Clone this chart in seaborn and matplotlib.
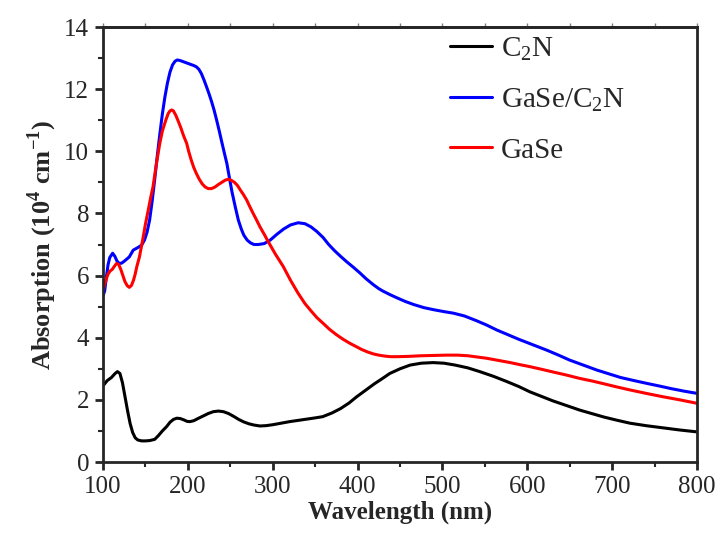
import pandas as pd
import matplotlib
matplotlib.use("Agg")
import matplotlib.pyplot as plt
import seaborn as sns
from matplotlib.ticker import MultipleLocator

# dados (comprimento de onda em nm, absorcao em 10^4 cm^-1)
x_c2n = [100, 105, 110, 114, 117, 120, 123, 126, 129, 132, 135, 138, 141, 145.6, 150, 155, 161,
         165, 170, 175, 179, 183, 187, 191, 195, 199, 202.5, 207, 212, 218, 224, 230, 236, 242,
         248, 254, 260, 266, 272, 278, 285, 292, 300, 310, 320, 330, 340, 350, 359, 370,
         380, 390, 399, 410, 420, 430, 438, 450, 462, 475, 489, 502, 515, 530, 544, 560,
         575, 590, 603, 617, 630, 646, 662, 676, 690, 705, 721, 740, 760, 780, 800]
y_c2n = [2.45, 2.62, 2.72, 2.84, 2.91, 2.85, 2.55, 2.1, 1.65, 1.24, 0.95, 0.78, 0.71, 0.68, 0.68,
         0.69, 0.73, 0.84, 1.0, 1.14, 1.28, 1.37, 1.41, 1.40, 1.36, 1.31, 1.30, 1.33, 1.40, 1.48,
         1.56, 1.62, 1.64, 1.62, 1.56, 1.47, 1.37, 1.29, 1.23, 1.19, 1.16, 1.17, 1.2, 1.25, 1.30,
         1.34, 1.38, 1.42, 1.46, 1.58, 1.72, 1.9, 2.10, 2.32, 2.52, 2.7, 2.85, 3.0, 3.12, 3.18,
         3.20, 3.18, 3.12, 3.03, 2.91, 2.76, 2.6, 2.43, 2.26, 2.11, 1.97, 1.82, 1.67, 1.56, 1.45,
         1.35, 1.25, 1.17, 1.1, 1.03, 0.97]

x_het = [100, 102, 104, 106, 108, 111.4, 114, 116.5, 119, 122, 125, 128, 131, 135.7, 141, 145.6,
         149, 152, 155, 158, 161, 164, 167, 170, 173, 176, 179, 182, 185, 187.6, 191, 195, 199,
         203, 207, 210, 213, 216, 219, 222, 225, 228, 231, 234, 237, 240, 243, 246, 249, 252,
         256, 259.5, 263, 266, 270, 274, 278, 283, 290, 297, 305, 313, 321, 330, 338, 345,
         352, 359.6, 366, 373, 380, 387, 395, 403, 410, 418.5, 425, 430, 438, 446, 456,
         466, 478, 490, 502, 513, 526, 540, 552, 564, 577, 590, 606, 623, 636, 650, 666, 682,
         696, 710, 726, 741, 755, 770, 785, 800]
y_het = [5.35, 5.5, 5.95, 6.35, 6.58, 6.72, 6.62, 6.47, 6.39, 6.4, 6.46, 6.53, 6.6, 6.82, 6.9, 6.98,
         7.15, 7.4, 7.79, 8.4, 9.1, 9.85, 10.55, 11.2, 11.75, 12.2, 12.55, 12.78, 12.9, 12.94,
         12.92, 12.88, 12.84, 12.80, 12.76, 12.72, 12.64, 12.5, 12.3, 12.08, 11.85, 11.6, 11.32,
         11.0, 10.66, 10.3, 9.95, 9.61, 9.15, 8.7, 8.2, 7.79, 7.5, 7.3, 7.14, 7.05, 7.0, 7.0,
         7.03, 7.14, 7.33, 7.5, 7.63, 7.70, 7.67, 7.57, 7.42, 7.22, 7.0, 6.8, 6.62, 6.45, 6.27,
         6.08, 5.9, 5.71, 5.58, 5.5, 5.39, 5.29, 5.17, 5.07, 4.97, 4.9, 4.84, 4.79, 4.7, 4.55,
         4.41, 4.25, 4.1, 3.95, 3.78, 3.60, 3.45, 3.28, 3.12, 2.96, 2.84, 2.72, 2.62, 2.53, 2.45,
         2.36, 2.28, 2.21]

x_gase = [100, 102.4, 104, 106, 108.5, 111, 113.5, 116, 118.5, 121, 123.5, 126, 128.5, 131, 133.5,
          136, 138, 140, 143, 147.5, 150, 153.4, 156, 159, 163, 167, 170, 174, 177, 179, 181, 183,
          186, 189, 192, 195, 198.6, 201, 204, 207, 210, 213.5, 217, 220.5, 224, 228, 232, 236,
          240, 244, 247.6, 251, 255, 258.5, 262, 265.7, 269.4, 273, 277, 281, 285, 290, 294.8,
          303, 312.5, 321, 330, 338, 345, 352, 359.6, 367, 375, 383, 391, 398, 405, 412,
          418.5, 425, 432, 439, 446, 460, 475, 490, 505, 518, 530, 541, 552, 566, 580, 592,
          603, 616, 630, 646, 662, 676, 690, 705, 721, 740, 760, 780, 800]
y_gase = [5.5, 5.75, 5.9, 6.05, 6.15, 6.2, 6.3, 6.39, 6.36, 6.2, 6.0, 5.8, 5.68, 5.62, 5.68,
          5.85, 6.05, 6.3, 6.6, 7.25, 7.65, 8.11, 8.48, 8.86, 9.6, 10.26, 10.65, 11.0, 11.22,
          11.3, 11.33, 11.3, 11.15, 10.95, 10.74, 10.5, 10.26, 10.0, 9.72, 9.48, 9.29, 9.1, 8.95,
          8.85, 8.80, 8.80, 8.85, 8.93, 9.0, 9.07, 9.10, 9.07, 9.0, 8.9, 8.75, 8.6, 8.43, 8.22,
          8.0, 7.79, 7.57, 7.33, 7.09, 6.7, 6.29, 5.85, 5.43, 5.1, 4.87, 4.65, 4.46, 4.27, 4.1,
          3.95, 3.82, 3.72, 3.62, 3.54, 3.48, 3.44, 3.41, 3.39, 3.39, 3.40, 3.42, 3.43, 3.44,
          3.44, 3.42, 3.38, 3.34, 3.27, 3.2, 3.13, 3.07, 2.99, 2.9, 2.8, 2.69, 2.61, 2.52, 2.42,
          2.32, 2.21, 2.1, 2.0, 1.89]

rotulos = [r"C$_2$N", r"GaSe/C$_2$N", "GaSe"]
cores = ["black", "blue", "red"]

sns.set_style("ticks")
plt.rcParams["font.family"] = ["Liberation Serif", "DejaVu Serif"]
plt.rcParams["mathtext.fontset"] = "custom"
plt.rcParams["mathtext.rm"] = "Liberation Serif"
plt.rcParams["mathtext.bf"] = "Liberation Serif:bold"

fig = plt.figure(figsize=(7.2, 5.4), dpi=100)
ax = fig.add_axes([0.143, 0.1444, 0.825, 0.8056])

for xs, ys, rot, cor in zip([x_c2n, x_het, x_gase], [y_c2n, y_het, y_gase], rotulos, cores):
    df = pd.DataFrame({"x": xs, "y": ys})
    sns.lineplot(data=df, x="x", y="y", sort=False, color=cor, linewidth=2.2, label=rot,
                 solid_joinstyle="round", ax=ax)

ax.set_xlim(100, 800)
ax.set_ylim(0, 14)
ax.xaxis.set_major_locator(MultipleLocator(100))
ax.xaxis.set_minor_locator(MultipleLocator(50))
ax.yaxis.set_major_locator(MultipleLocator(2))
ax.yaxis.set_minor_locator(MultipleLocator(1))
ax.tick_params(which="major", direction="out", length=6, width=2, labelsize=18, pad=4)
ax.tick_params(which="minor", direction="out", length=3.5, width=1.5)
for s in ax.spines.values():
    s.set_linewidth(2)

# ticks pequenos no topo
top = ax.secondary_xaxis("top")
top.xaxis.set_major_locator(MultipleLocator(50))
top.tick_params(direction="out", length=3, width=1, labeltop=False, color="gray")
top.spines["top"].set_linewidth(2)

ax.set_xlabel("Wavelength (nm)", fontsize=18, fontweight="bold", labelpad=2)
ax.set_ylabel(r"Absorption (10$^{\mathbf{4}}$ cm$^{\mathbf{-1}}$)", fontsize=19,
              fontweight="bold", labelpad=4)

ax.legend(loc="upper left", bbox_to_anchor=(0.584, 0.982), frameon=False, fontsize=21,
          handlelength=1.45, handletextpad=0.3, labelspacing=0.8, borderaxespad=0,
          borderpad=0)

fig.savefig("out.png", dpi=100)
